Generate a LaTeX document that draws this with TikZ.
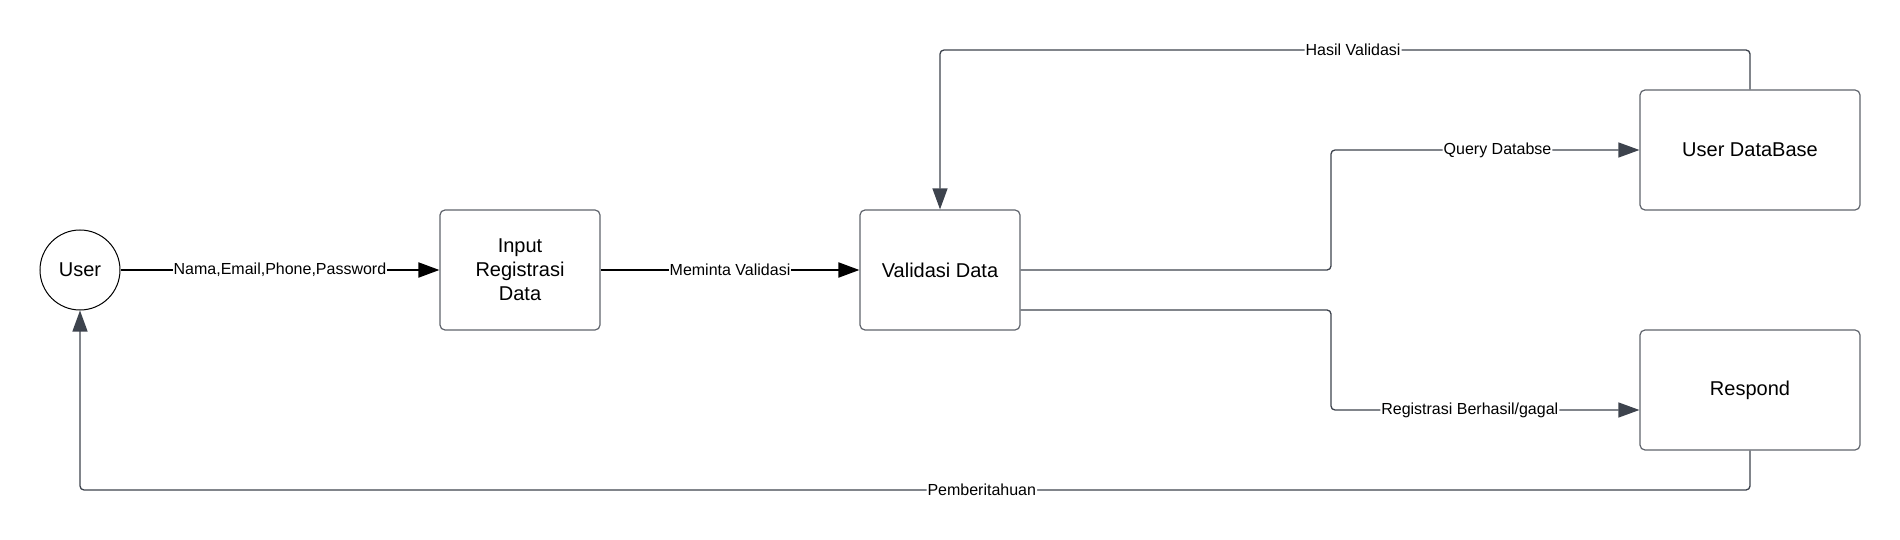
\documentclass[tikz,border=0pt]{standalone}
\usepackage{fontspec}
\setmainfont{Liberation Sans}
\usetikzlibrary{arrows.meta}
\definecolor{flowgray}{HTML}{3D434D}
\definecolor{boxgray}{HTML}{5F646C}

\begin{document}
\begin{tikzpicture}[x=1pt, y=-1pt, >={Triangle[length=21pt, width=15pt]},
  entity/.style={circle, draw=black, line width=1pt, minimum size=80pt, inner sep=0pt, font=\fontsize{20}{24}\selectfont},
  process/.style={draw=boxgray, line width=1.2pt, rounded corners=5pt, minimum height=120pt, align=center, inner sep=0pt, font=\fontsize{20}{24}\selectfont},
  flow/.style={->, draw=flowgray, line width=1.3pt, rounded corners=4pt},
  main flow/.style={->, draw=black, line width=2pt},
  flow label/.style={fill=white, inner sep=1pt, font=\fontsize{16}{19}\selectfont}]

\useasboundingbox (0,0) rectangle (1900,540);

\node [entity] (user) at (80,270) {User};

\foreach \t/\n/\x/\y/\w in {{Input\\Registrasi\\Data}/input/520/270/160, {Validasi Data}/valid/940/270/160,
  {User DataBase}/userdb/1750/150/220, {Respond}/respond/1750/390/220}
  \node [process, minimum width=\w pt] (\n) at (\x,\y) {\t};

\coordinate (top) at (0,50);
\coordinate (split) at (1331,0);
\coordinate (bottom) at (0,490);
\coordinate (valid-low) at ([yshift=-40pt]valid.east);
\coordinate (respond-in) at ([yshift=-20pt]respond.west);

\draw [main flow] (user) -- node [flow label] {Nama,Email,Phone,Password} (input);

\draw [main flow] (input) -- node [flow label] {Meminta Validasi} (valid);

\draw [flow] (valid.east) -- (valid.east -| split) -- (userdb.west -| split)
  -- node [flow label, pos=0.54] {Query Databse} (userdb.west);

\draw [flow] (valid-low) -- (valid-low -| split) -- (respond-in -| split)
  -- node [flow label, pos=0.45] {Registrasi Berhasil/gagal} (respond-in);

\draw [flow] (userdb.north) -- (userdb.north |- top)
  -- node [flow label, pos=0.49] {Hasil Validasi} (valid.north |- top) -- (valid.north);

\draw [flow] (respond.south) -- (respond.south |- bottom)
  -- node [flow label, pos=0.46] {Pemberitahuan} (user.south |- bottom) -- (user.south);
\end{tikzpicture}
\end{document}
